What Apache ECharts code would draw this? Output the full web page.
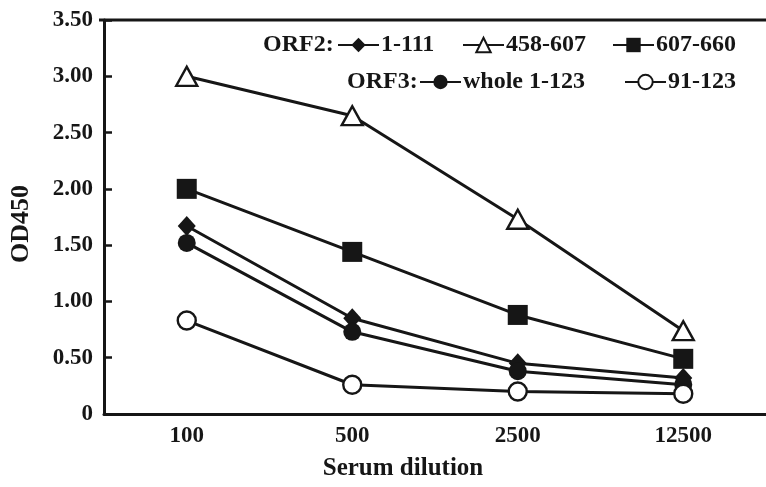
<!DOCTYPE html>
<html>
<head>
<meta charset="utf-8">
<script src="https://cdn.jsdelivr.net/npm/echarts@6/dist/echarts.min.js"></script>
<style>
html,body{margin:0;padding:0;background:#fff;}
#main{width:766px;height:487px;}
</style>
</head>
<body>
<div id="main"></div>
<script>
const categories = ['100', '500', '2500', '12500'];
const yTickValues = [0, 0.5, 1, 1.5, 2, 2.5, 3, 3.5];
const yTickLabels = ['0', '0.50', '1.00', '1.50', '2.00', '2.50', '3.00', '3.50'];

const orf2_1_111   = [1.67, 0.85, 0.45, 0.32];
const orf2_458_607 = [3.00, 2.65, 1.73, 0.74];
const orf2_607_660 = [2.00, 1.44, 0.88, 0.49];
const orf3_whole   = [1.52, 0.73, 0.38, 0.26];
const orf3_91_123  = [0.83, 0.26, 0.20, 0.18];

const seriesNames = ['1-111', '458-607', '607-660', 'whole 1-123', '91-123'];

const INK = '#161616';
const FONT = '"Liberation Serif", "Times New Roman", serif';

function mkSeries(name, data, symbol, size, filled) {
  return {
    name: name,
    type: 'line',
    data: data,
    symbol: symbol,
    symbolSize: size,
    showAllSymbol: true,
    lineStyle: { color: INK, width: 3 },
    itemStyle: filled ? { color: INK, borderColor: INK, borderWidth: 0 }
                      : { color: '#ffffff', borderColor: INK, borderWidth: 2.4 },
    emphasis: { disabled: true },
    animation: false
  };
}

const chart = echarts.init(document.getElementById('main'), null, { renderer: 'canvas' });

const legendCommon = {
  orient: 'horizontal',
  itemWidth: 41,
  itemHeight: 18,
  itemGap: 0,
  selectedMode: false,
  padding: 0,
  textStyle: { fontFamily: FONT, fontWeight: 'bold', fontSize: 24, color: INK, padding: [0, 0, 0, -3] }
};

const row1 = 33, row2 = 70;

const option = {
  backgroundColor: '#ffffff',
  animation: false,
  textStyle: { fontFamily: FONT },
  grid: { left: 99, top: 20, width: 677, height: 394, containLabel: false },
  legend: [
    Object.assign({}, legendCommon, { data: [seriesNames[0]], left: 337, top: row1 }),
    Object.assign({}, legendCommon, { data: [seriesNames[1]], left: 462, top: row1 }),
    Object.assign({}, legendCommon, { data: [seriesNames[2]], left: 612, top: row1 }),
    Object.assign({}, legendCommon, { data: [seriesNames[3]], left: 419, top: row2 }),
    Object.assign({}, legendCommon, { data: [seriesNames[4]], left: 624, top: row2 })
  ],
  graphic: [
    { type: 'text', x: 263, y: row1 + 12, style: { text: 'ORF2:', font: 'bold 24px ' + FONT, fill: INK, verticalAlign: 'middle' } },
    { type: 'text', x: 347, y: row2 + 12, style: { text: 'ORF3:', font: 'bold 24px ' + FONT, fill: INK, verticalAlign: 'middle' } },
    { type: 'line', silent: true, shape: { x1: 99, y1: 20, x2: 776, y2: 20 }, style: { stroke: INK, lineWidth: 3 } }
  ],
  xAxis: {
    type: 'category',
    data: categories,
    boundaryGap: true,
    name: 'Serum dilution',
    nameLocation: 'middle',
    nameGap: 42,
    nameTextStyle: { fontFamily: FONT, fontWeight: 'bold', fontSize: 25, color: INK, padding: [0, 64, 0, 0] },
    axisLine: { lineStyle: { color: INK, width: 3 } },
    axisTick: { inside: true, alignWithLabel: true, length: 8, lineStyle: { color: INK, width: 2.5 } },
    axisLabel: { fontFamily: FONT, fontWeight: 'bold', fontSize: 23, color: INK, margin: 11 },
    splitLine: { show: false }
  },
  yAxis: {
    type: 'value',
    min: 0,
    max: 3.5,
    interval: 0.5,
    name: 'OD450',
    nameLocation: 'middle',
    nameGap: 70,
    nameTextStyle: { fontFamily: FONT, fontWeight: 'bold', fontSize: 26, color: INK, padding: [0, 14, 0, 0] },
    axisLine: { show: true, lineStyle: { color: INK, width: 3 } },
    axisTick: { show: true, inside: true, length: 8, lineStyle: { color: INK, width: 2.5 } },
    axisLabel: {
      fontFamily: FONT, fontWeight: 'bold', fontSize: 23, color: INK, margin: 11,
      formatter: function (v) {
        const i = yTickValues.findIndex(t => Math.abs(t - v) < 1e-9);
        return i >= 0 ? yTickLabels[i] : '';
      }
    },
    splitLine: { show: false }
  },
  series: [
    mkSeries(seriesNames[0], orf2_1_111, 'diamond', [18, 20], true),
    mkSeries(seriesNames[1], orf2_458_607, 'triangle', [21, 19], false),
    mkSeries(seriesNames[2], orf2_607_660, 'rect', 20, true),
    mkSeries(seriesNames[3], orf3_whole, 'circle', 18, true),
    mkSeries(seriesNames[4], orf3_91_123, 'circle', 18, false)
  ]
};

chart.setOption(option);
</script>
</body>
</html>
